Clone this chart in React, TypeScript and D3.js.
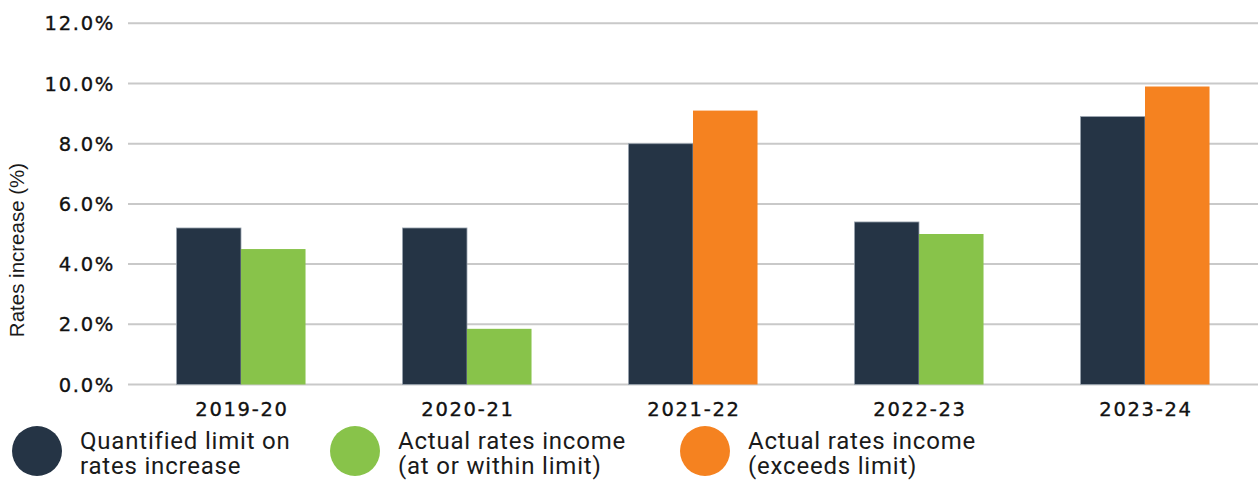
import React from "react";
import * as d3 from "d3";

const categories = ["2019-20", "2020-21", "2021-22", "2022-23", "2023-24"];
const limitValues = [5.2, 5.2, 8.0, 5.4, 8.9];
const actualValues = [4.5, 1.85, 9.1, 5.0, 9.9];
const yTicks = [0, 2, 4, 6, 8, 10, 12];
const legendLabels = [
  ["Quantified limit on", "rates increase"],
  ["Actual rates income", "(at or within limit)"],
  ["Actual rates income", "(exceeds limit)"],
];

const COLORS = { limit: "#253445", within: "#88c34a", exceeds: "#f58220" };

export default function App() {
  const W = 1258, H = 482;
  const left = 128, right = 1258, top = 23.3, bottom = 384.5;
  const x = d3.scaleBand<string>().domain(categories).range([left, right]).paddingInner(0.429).paddingOuter(0.2145);
  const sub = d3.scaleBand<string>().domain(["limit", "actual"]).range([0, x.bandwidth()]);
  const y = d3.scaleLinear().domain([0, 12]).range([bottom, top]);
  const tickFont = "'DejaVu Sans', sans-serif";
  const legendFont = "Roboto, sans-serif";
  const legendX = [37, 355, 705];
  const legendColors = [COLORS.limit, COLORS.within, COLORS.exceeds];

  return (
    <svg width={W} height={H} style={{ position: "absolute", left: 0, top: 0, display: "block" }}>
      <rect width={W} height={H} fill="#fff" />
      {yTicks.map((t) => (
        <g key={t}>
          <line x1={left} x2={right} y1={y(t)} y2={y(t)} stroke="#c9c9c9" strokeWidth={2} />
          <text x={115} y={y(t)} dy="0.36em" textAnchor="end" fontFamily={tickFont} fontSize={19.5} letterSpacing={1.7} fill="#111" stroke="#111" strokeWidth={0.35}>
            {t.toFixed(1) + "%"}
          </text>
        </g>
      ))}
      {categories.map((c, i) => {
        const gx = x(c) as number;
        const exceeds = actualValues[i] > limitValues[i];
        return (
          <g key={c}>
            <rect x={gx + (sub("limit") as number)} y={y(limitValues[i])} width={sub.bandwidth()} height={bottom - y(limitValues[i])} fill={COLORS.limit} stroke="#9aa3ae" strokeWidth={0.8} />
            <rect x={gx + (sub("actual") as number)} y={y(actualValues[i])} width={sub.bandwidth()} height={bottom - y(actualValues[i])} fill={exceeds ? COLORS.exceeds : COLORS.within} />
            <text x={gx + x.bandwidth() / 2 + 1} y={409} dy="0.36em" textAnchor="middle" fontFamily={tickFont} fontSize={19.5} letterSpacing={1.7} fill="#111" stroke="#111" strokeWidth={0.35}>
              {c}
            </text>
          </g>
        );
      })}
      <text transform={`translate(24,250) rotate(-90)`} textAnchor="middle" fontFamily="'Liberation Sans', Arial, sans-serif" fontSize={20.5} fill="#1a1a1a">
        Rates increase (%)
      </text>
      {legendLabels.map((lines, i) => (
        <g key={i}>
          <circle cx={legendX[i]} cy={451} r={25} fill={legendColors[i]} />
          {lines.map((ln, j) => (
            <text key={j} x={legendX[i] + 43} y={448.5 + j * 25.5} fontFamily={legendFont} fontSize={24} letterSpacing={0.8} fill="#1a1a1a">
              {ln}
            </text>
          ))}
        </g>
      ))}
    </svg>
  );
}
